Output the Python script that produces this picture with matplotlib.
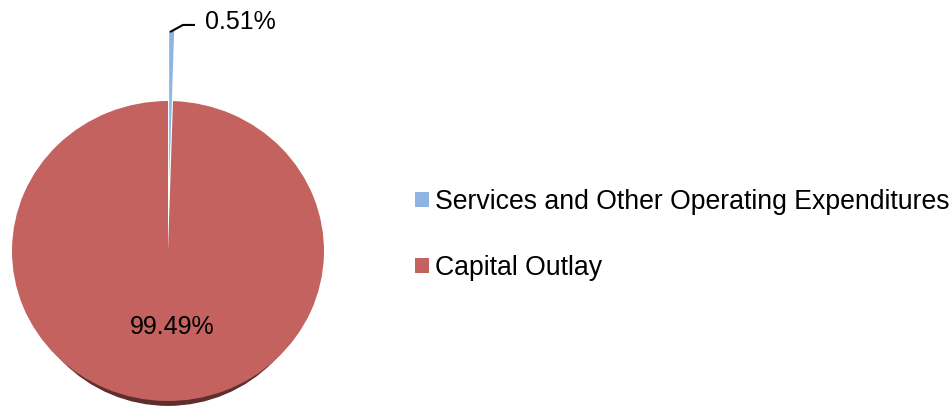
import matplotlib.pyplot as plt
from matplotlib.patches import Ellipse, Rectangle, Patch

labels = ['Services and Other Operating Expenditures', 'Capital Outlay']
shares = [0.51, 99.49]
colors = ['#8EB4E3', '#C3625F']
explode = [0.467, 0.0]

W, H = 953, 408
fig = plt.figure(figsize=(W / 100, H / 100), dpi=100)
plt.rcParams['font.family'] = ['Liberation Sans', 'DejaVu Sans']

# pie area in pixels: centre (168, 251), radii 156 x 150 (slightly tilted look)
cx, cy, rx, ry = 168, 251, 156, 150
ax = fig.add_axes([0, 0, 340 / W, 1])


def set_limits():
    ax.set_xlim(-cx / rx, (340 - cx) / rx)
    ax.set_ylim(-(H - cy) / ry, cy / ry)
    ax.set_aspect('auto')


# dark rim under the bottom of the pie for the 3D edge, tapering to the sides
rim = Ellipse((0.0, -0.028), 1.9, 2.0, color='#5E2E2C', zorder=0)
ax.add_patch(rim)
rim.set_clip_path(Rectangle((-2, -2), 4, 2, transform=ax.transData))

wedges, _ = ax.pie(shares, colors=colors, explode=explode, startangle=90,
                   counterclock=False, radius=1.0, frame=False,
                   wedgeprops=dict(linewidth=0))
for w in wedges:
    w.set_clip_on(False)
set_limits()
ax.axis('off')

# data labels
ax.plot([0.013, 0.096, 0.173], [1.46, 1.507, 1.507], color='black', lw=1.5,
        clip_on=False, solid_capstyle='butt')
ax.text(0.237, 1.527, f'{shares[0]:.2f}%', fontsize=18, va='center', ha='left')
ax.text(0.026, -0.507, f'{shares[1]:.2f}%', fontsize=18, ha='center', va='center')

handles = [Patch(facecolor=c, edgecolor='none') for c in colors]
fig.legend(handles, labels, loc='center left', bbox_to_anchor=(402 / W, 1 - 235 / H),
           frameon=False, fontsize=19.2, handlelength=0.5, handleheight=0.5,
           handletextpad=0.25, labelspacing=1.49, borderpad=0)

fig.savefig('out.png', dpi=100)
